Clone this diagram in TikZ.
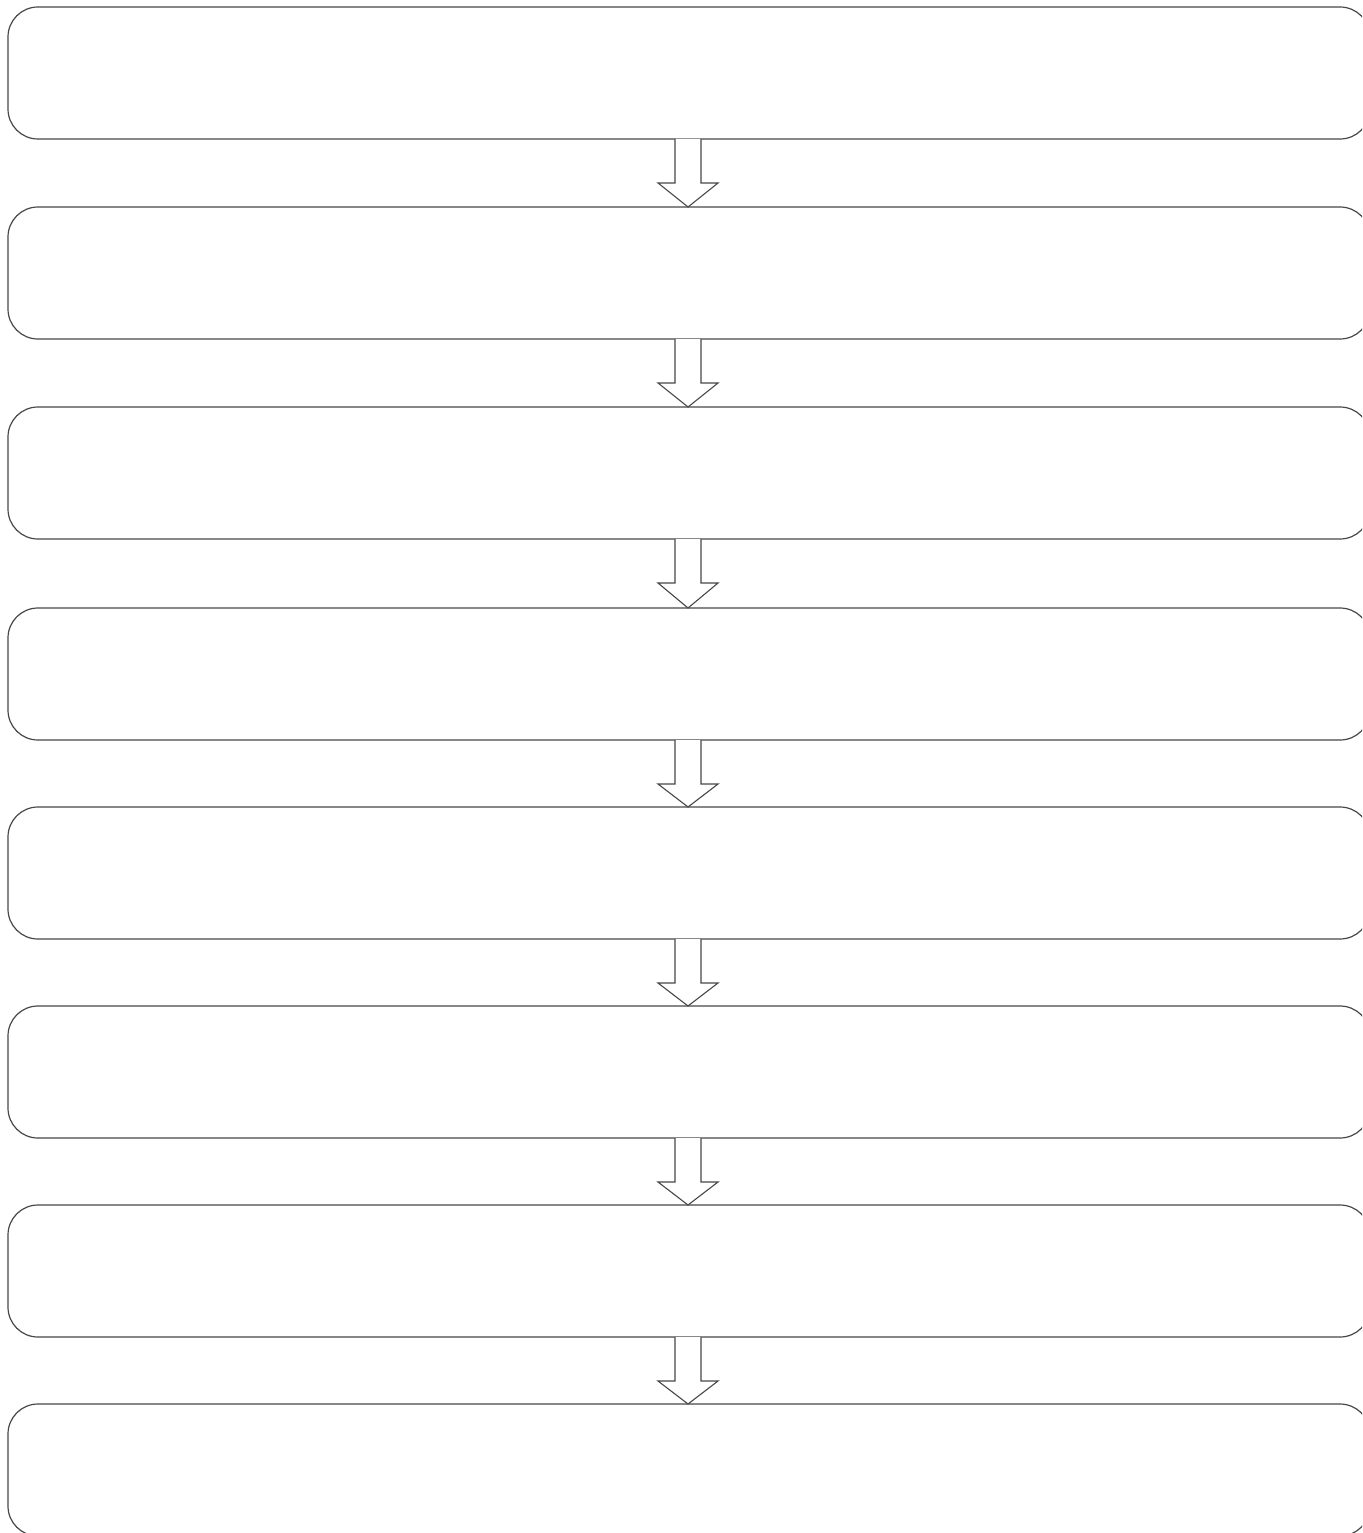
\documentclass[tikz,border=0pt]{standalone}
\usetikzlibrary{calc}
\begin{document}
\begin{tikzpicture}[x=1pt,y=1pt,
  stepbox/.style={draw=black!72, line width=1.2pt, rounded corners=30pt, minimum width=1362pt, minimum height=132pt, inner sep=0pt, outer sep=0pt},
  blockarr/.style={draw=black!72, line width=1.1pt, fill=white, line join=miter}]
\useasboundingbox (0,0) rectangle (1362,-1533);
\clip (0,0) rectangle (1362,-1533);
\foreach \i/\t in {1/7,2/207,3/407,4/608,5/807,6/1006,7/1205,8/1404}{
  \node[stepbox] (b\i) at (689,-\t-66) {};
}
\foreach \i/\j in {1/2,2/3,3/4,4/5,5/6,6/7,7/8}{
  \draw[blockarr] ($(b\i.south)+(-14,0)$) -- ($(b\i.south)+(-14,-44)$) -- ($(b\i.south)+(-31,-44)$) -- ($(b\j.north)+(-1,0)$) -- ($(b\i.south)+(29,-44)$) -- ($(b\i.south)+(12,-44)$) -- ($(b\i.south)+(12,0)$);
}
\end{tikzpicture}
\end{document}
